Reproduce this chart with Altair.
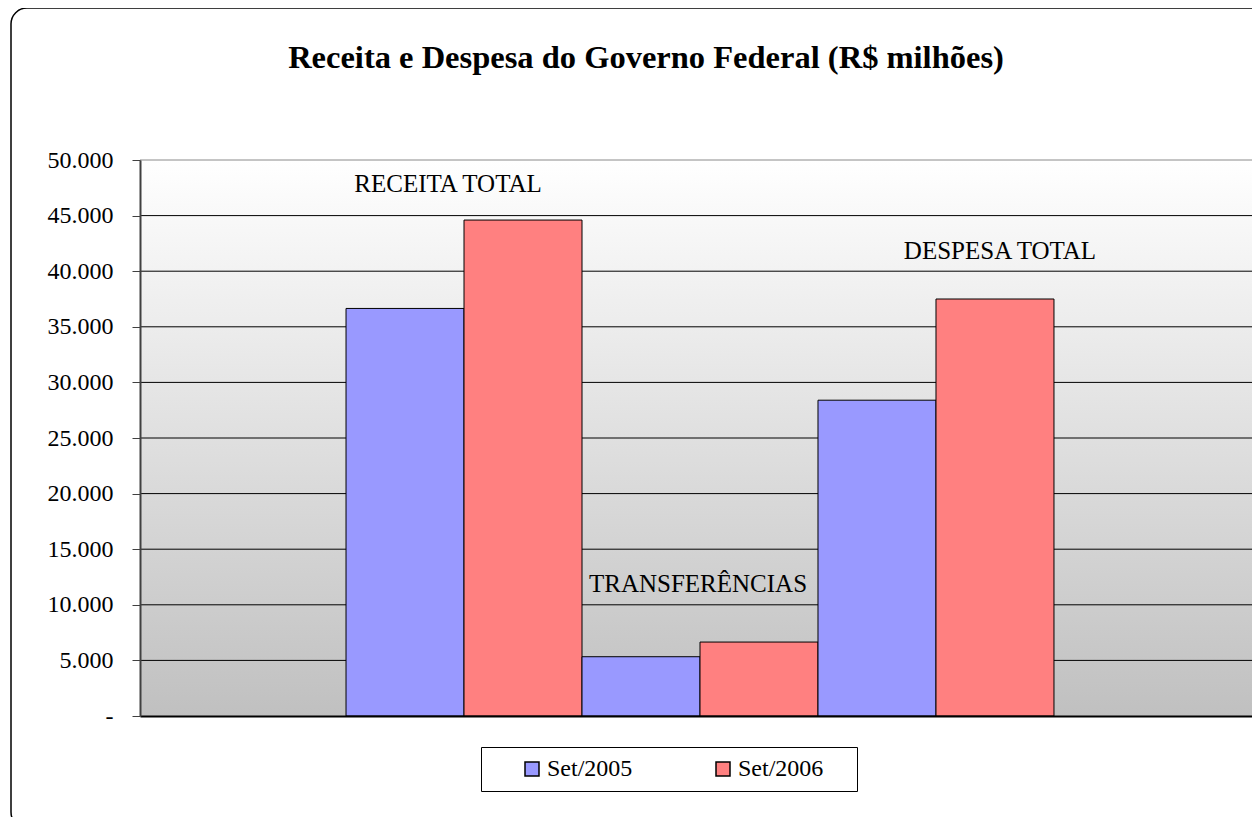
import altair as alt
import pandas as pd

# ---- data ----
categories = ["RECEITA TOTAL", "TRANSFERÊNCIAS", "DESPESA TOTAL"]
series = ["Set/2005", "Set/2006"]
set2005 = [36650, 5330, 28400]
set2006 = [44600, 6650, 37500]
y_ticks = [0, 5000, 10000, 15000, 20000, 25000, 30000, 35000, 40000, 45000, 50000]
label_y = [47100, 11150, 41100]

# ---- styling ----
W, H = 1112, 556          # visible plot area (page is 1260 wide)
FULL_W = 1120             # plot area as drawn in the original (runs off the right edge)
FONT = "Liberation Serif"
COLORS = ["#9999FF", "#FF8080"]
LABEL_DX = [-16, -2, 64]

rows = []
for c, a, b in zip(categories, set2005, set2006):
    rows.append({"categoria": c, "serie": series[0], "valor": a})
    rows.append({"categoria": c, "serie": series[1], "valor": b})
bars_df = pd.DataFrame(rows)

xscale = alt.Scale(domain=categories, range=[0, FULL_W], paddingInner=0, paddingOuter=0.873)
yscale = alt.Scale(domain=[0, 50000], nice=False, zero=True)

one = pd.DataFrame({"a": [0]})

# plot-area gradient background
background = alt.Chart(one).mark_rect(
    color=alt.LinearGradient(
        gradient="linear",
        stops=[alt.GradientStop(color="#ffffff", offset=0),
               alt.GradientStop(color="#c0c0c0", offset=1)],
        x1=0, x2=0, y1=0, y2=1,
    )
).encode(x=alt.value(0), x2=alt.value(FULL_W), y=alt.value(0), y2=alt.value(H))

# gridlines
grid_df = pd.DataFrame({"v": y_ticks[1:]})
grid = alt.Chart(grid_df).mark_rule(strokeWidth=1).encode(
    y=alt.Y("v:Q", scale=yscale),
    x=alt.value(0),
    x2=alt.value(FULL_W),
    color=alt.condition(alt.datum.v == 50000, alt.value("#8a8a8a"), alt.value("black")),
)

bars = alt.Chart(bars_df).mark_bar(stroke="black", strokeWidth=1).encode(
    x=alt.X("categoria:N", scale=xscale,
            axis=alt.Axis(title=None, labels=False, ticks=False,
                          domainColor="black", domainWidth=2, zindex=1)),
    xOffset=alt.XOffset("serie:N", scale=alt.Scale(domain=series, paddingInner=0, paddingOuter=0)),
    y=alt.Y("valor:Q", scale=yscale,
            axis=alt.Axis(title=None, values=y_ticks, grid=False, domainColor="#404040",
                          domainWidth=2, tickColor="#404040", tickSize=8, tickWidth=1,
                          labelFont=FONT, labelFontSize=24, labelColor="black",
                          labelPadding=19, zindex=1,
                          labelExpr="datum.value == 0 ? '-' : replace(format(datum.value, ','), ',', '.')")),
    color=alt.Color("serie:N", scale=alt.Scale(domain=series, range=COLORS),
                    legend=alt.Legend(orient="none", legendX=341, legendY=587,
                                      direction="horizontal", title=" ", titleOrient="right",
                                      titleFontSize=1, titlePadding=24,
                                      labelFont=FONT, labelFontSize=24, labelColor="black",
                                      symbolType="square", symbolSize=196,
                                      symbolStrokeColor="black", symbolStrokeWidth=1.5,
                                      strokeColor="black", fillColor="white",
                                      padding=10, columnPadding=49, symbolOffset=29,
                                      labelOffset=3)),
)

labels = []
for cat, yv, dx in zip(categories, label_y, LABEL_DX):
    df = pd.DataFrame({"categoria": [cat], "y": [yv], "t": [cat]})
    labels.append(
        alt.Chart(df).mark_text(font=FONT, fontSize=25, color="black", baseline="alphabetic",
                                align="center", dx=dx).encode(
            x=alt.X("categoria:N", scale=xscale),
            y=alt.Y("y:Q", scale=yscale),
            text="t:N",
        )
    )

frame = alt.Chart(one).mark_rect(filled=False, stroke="black", strokeWidth=1.5,
                                  cornerRadius=16).encode(
    x=alt.value(-129), x2=alt.value(FULL_W + 40), y=alt.value(-152), y2=alt.value(H + 112)
)

chart = alt.layer(background, grid, bars, *labels, frame).properties(
    width=W,
    height=H,
    title=alt.TitleParams("Receita e Despesa do Governo Federal (R$ milhões)", font=FONT,
                          fontSize=32.5, fontWeight="bold", color="black", anchor="middle",
                          frame="group", dx=-50, offset=-67),
    padding={"left": 132, "top": 152, "right": 0, "bottom": 101},
    autosize=alt.AutoSizeParams(type="none"),
).configure_view(stroke=None).configure(background="white")

chart.save("out.html", embed_options={"renderer": "svg", "actions": False})
